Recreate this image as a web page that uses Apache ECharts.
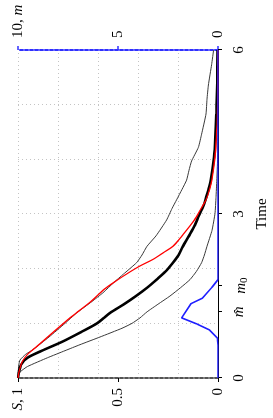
<!DOCTYPE html>
<html><head><meta charset="utf-8">
<script src="https://cdn.jsdelivr.net/npm/echarts@6/dist/echarts.min.js"></script>
<style>
html,body{margin:0;padding:0;width:273px;height:418px;overflow:hidden;background:#fff}
#chart{position:absolute;left:0;top:0;width:418px;height:273px;transform-origin:0 0;transform:translate(0,418px) rotate(-90deg)}
</style></head><body><div id="chart"></div>
<script>
// ---- data (time, value) ----
const timeTicks = [0, 1.21, 1.69, 3, 6];
const timeTickLabels = ['0', '{i|m\u0302}', '{i|m}{s|0}', '3', '6'];
const sTicks = [0, 0.5, 1];
const sTickLabels = ['0', '0.5', '{i|S}, 1'];
const mTicks = [0, 5, 10];
const mTickLabels = ['0', '5', '10, {i|m}'];

const upperS = [[0,1.0],[0.12,0.999],[0.24,0.996],[0.33,0.99],[0.43,0.963],[0.52,0.925],[0.75,0.845],[1.0,0.765],[1.19,0.707],[1.4,0.63],[1.56,0.575],[1.75,0.52],[1.9,0.473],[2.11,0.407],[2.25,0.38],[2.41,0.355],[2.6,0.31],[2.89,0.257],[3.1,0.23],[3.26,0.207],[3.45,0.18],[3.62,0.157],[3.8,0.145],[3.97,0.132],[4.22,0.098],[4.46,0.082],[4.83,0.06],[5.1,0.055],[5.36,0.048],[5.73,0.032],[6,0.022]];
const lowerS = [[0,1.0],[0.06,0.997],[0.12,0.987],[0.21,0.953],[0.37,0.853],[0.5,0.765],[0.61,0.69],[0.75,0.59],[0.91,0.48],[1.0,0.43],[1.1,0.39],[1.21,0.355],[1.35,0.3],[1.5,0.24],[1.65,0.188],[1.8,0.14],[1.95,0.108],[2.11,0.082],[2.25,0.068],[2.41,0.055],[2.7,0.03],[3.01,0.015],[3.3,0.01],[3.62,0.006],[4.0,0.002],[4.5,0],[6,0]];
const meanS = [[0,1.0],[0.1,0.996],[0.24,0.985],[0.37,0.953],[0.5,0.88],[0.67,0.775],[0.85,0.68],[1.0,0.605],[1.1,0.57],[1.19,0.54],[1.35,0.47],[1.5,0.41],[1.65,0.355],[1.8,0.307],[1.95,0.262],[2.11,0.225],[2.25,0.197],[2.41,0.175],[2.6,0.145],[2.8,0.115],[2.95,0.098],[3.1,0.078],[3.26,0.062],[3.45,0.048],[3.62,0.036],[4.04,0.02],[4.4,0.013],[4.83,0.008],[5.4,0.004],[6,0.002]];
const fitS = [[0,1.0],[0.06,0.998],[0.18,0.99],[0.3,0.979],[0.43,0.953],[0.58,0.905],[0.85,0.82],[1.1,0.74],[1.2,0.705],[1.4,0.635],[1.62,0.57],[1.8,0.5],[1.93,0.445],[2.05,0.39],[2.17,0.325],[2.3,0.27],[2.41,0.225],[2.6,0.18],[2.89,0.118],[3.1,0.085],[3.26,0.06],[3.45,0.042],[3.62,0.031],[4.04,0.015],[4.4,0.008],[4.83,0.003],[5.5,0.001],[6,0]];
const mCurve = [[0,0],[0.6,0],[0.73,0.03],[0.88,0.43],[0.99,1.07],[1.1,1.82],[1.36,1.35],[1.46,0.78],[1.66,0.3],[1.8,0],[6,0]];

// ---- chart ----
const FONT = 'Liberation Serif';
const txt = {fontFamily: FONT, fontSize: 15, color: '#000'};
const rich = {
  i: {fontFamily: FONT, fontSize: 15, fontStyle: 'italic', color: '#000'},
  s: {fontFamily: FONT, fontSize: 11, color: '#000', padding: [7, 0, 0, 0]}
};
const grid = {left: 40, right: 50, top: 18, bottom: 55, outerBoundsMode: 'none', containLabel: false};
const gridLine = {show: true, lineStyle: {color: '#c4c4c4', type: [1, 3], width: 1}};

function series(data, color, width, yIdx, z, smooth) {
  return {type: 'line', data: data, xAxisIndex: 0, yAxisIndex: yIdx, symbol: 'none', showSymbol: false,
    smooth: smooth, lineStyle: {color: color, width: width}, itemStyle: {color: color}, silent: true, z: z, animation: false};
}

const chart = echarts.init(document.getElementById('chart'), null, {renderer: 'canvas'});
chart.setOption({
  animation: false,
  backgroundColor: '#fff',
  grid: grid,
  xAxis: [
    {type: 'value', min: 0, max: 6, interval: 1, position: 'bottom',
      axisLine: {show: false}, axisTick: {show: false}, axisLabel: {show: false}, splitLine: gridLine},
    {type: 'value', min: 0, max: 6, interval: 1, position: 'bottom',
      axisLine: {show: true, onZero: false, lineStyle: {color: '#000', width: 1}},
      axisTick: {show: true, customValues: timeTicks, length: 4, lineStyle: {color: '#000'}},
      axisLabel: Object.assign({customValues: timeTicks, margin: 14, rich: rich,
        formatter: function (v) { const k = timeTicks.indexOf(v); return k >= 0 ? timeTickLabels[k] : ''; }}, txt),
      splitLine: {show: false},
      name: 'Time', nameLocation: 'middle', nameGap: 32, nameTextStyle: txt}
  ],
  yAxis: [
    {type: 'value', min: 0, max: 1, interval: 0.2, position: 'left',
      axisLine: {show: false}, axisTick: {show: false}, axisLabel: {show: false}, splitLine: gridLine},
    {type: 'value', min: 0, max: 1, interval: 0.5, position: 'left',
      axisLine: {show: true, onZero: false, lineStyle: {color: '#555', width: 2, type: [3, 2]}},
      axisTick: {show: true, customValues: sTicks, length: 4, lineStyle: {color: '#000'}},
      axisLabel: Object.assign({customValues: sTicks, margin: 10, rich: rich,
        formatter: function (v) { const k = sTicks.indexOf(v); return k >= 0 ? sTickLabels[k] : ''; }}, txt),
      splitLine: {show: false}},
    {type: 'value', min: 0, max: 10, interval: 5, position: 'right',
      axisLine: {show: true, onZero: false, lineStyle: {color: '#3030ff', width: 2, type: [3, 2]}},
      axisTick: {show: true, length: 4, lineStyle: {color: '#3030ff', width: 1.5}},
      axisLabel: Object.assign({margin: 12, rich: rich,
        formatter: function (v) { const k = mTicks.indexOf(v); return k >= 0 ? mTickLabels[k] : ''; }}, txt),
      splitLine: {show: false}}
  ],
  series: [
    series(upperS, '#3a3a3a', 1, 0, 2, 0.15),
    series(lowerS, '#3a3a3a', 1, 0, 2, 0.15),
    series(meanS, '#000000', 2.6, 0, 3, 0.3),
    series(fitS, '#ff0000', 1.3, 0, 4, 0.3),
    series(mCurve, '#1f1fff', 1.6, 2, 5, false)
  ]
});
</script></body></html>
